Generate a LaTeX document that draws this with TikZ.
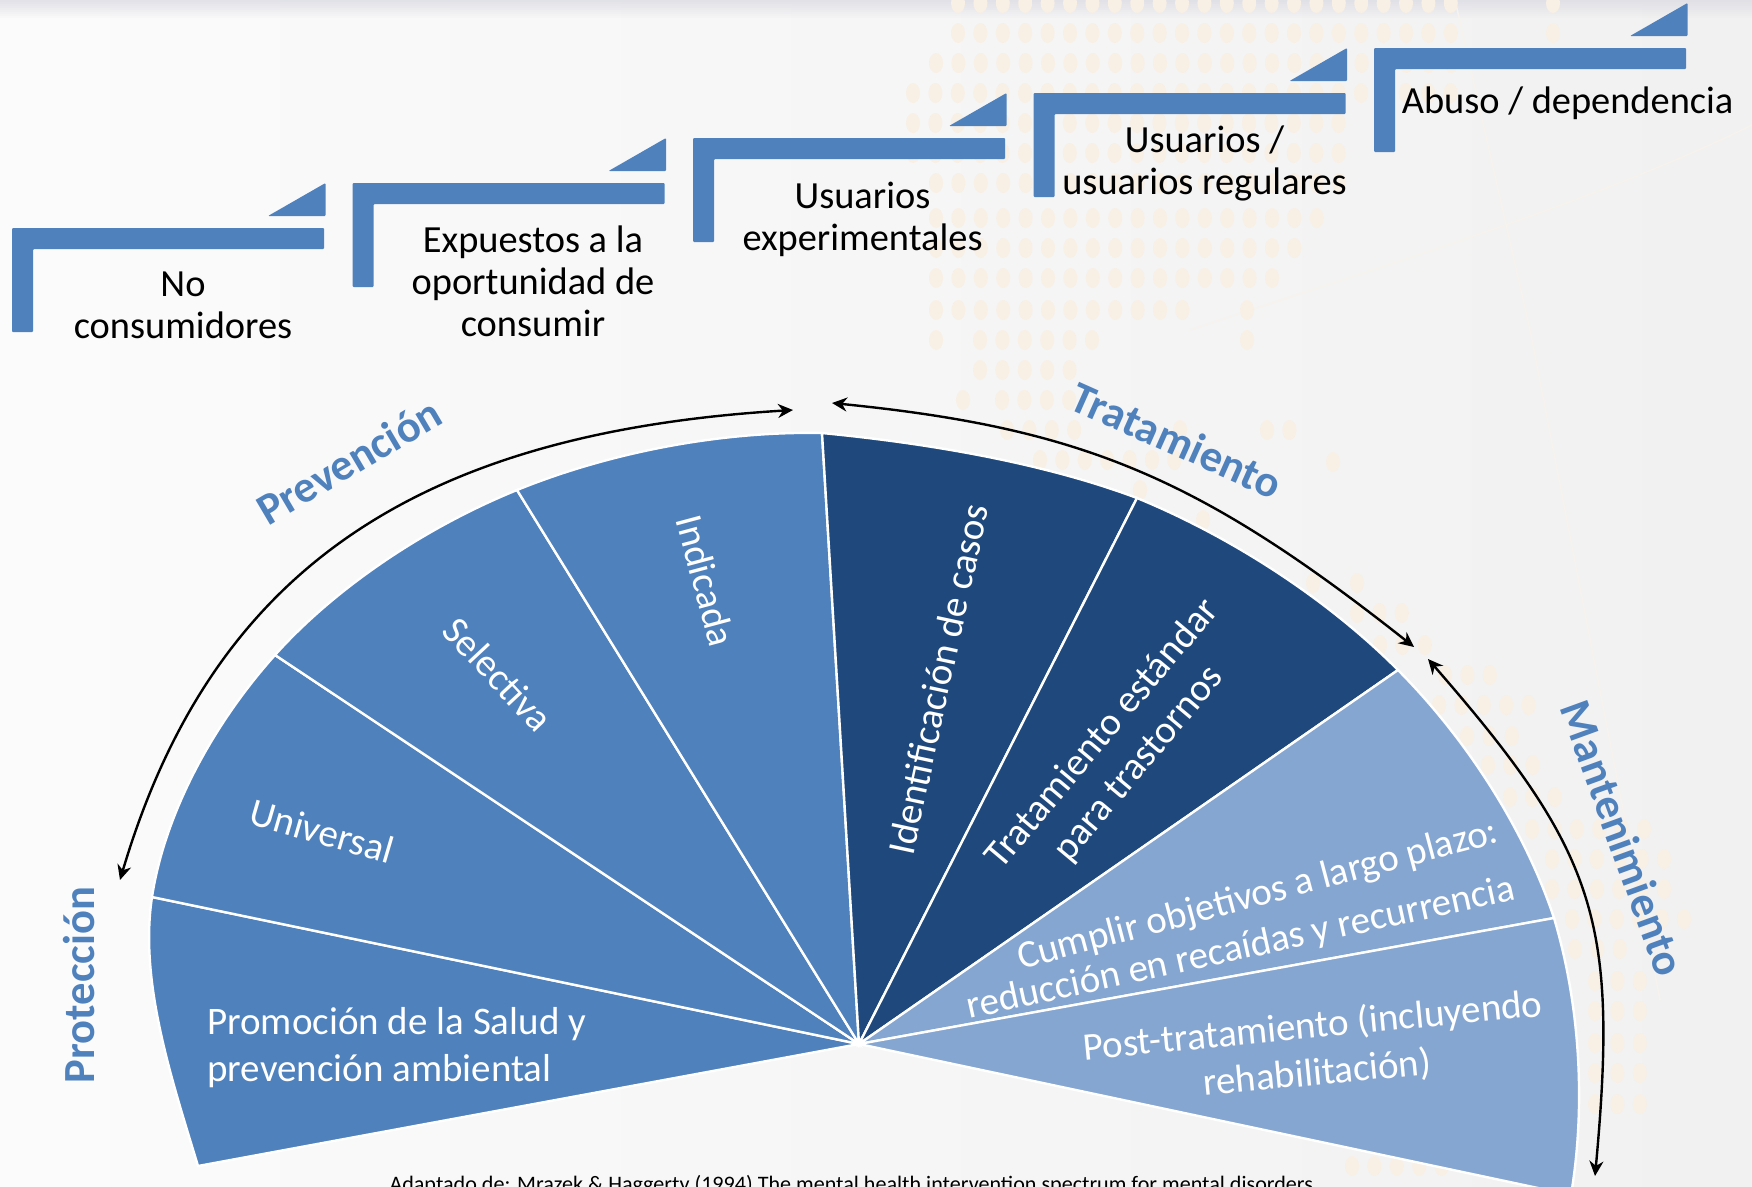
\documentclass[tikz,border=0pt]{standalone}
\usepackage{fontspec}
\setmainfont{Carlito}
\usetikzlibrary{arrows.meta}
\definecolor{midblue}{HTML}{4F81BD}
\definecolor{darkblue}{HTML}{1F497D}
\definecolor{lightblue}{HTML}{86A6D2}
\definecolor{mapdot}{HTML}{F8EFE5}
\definecolor{mapline}{HTML}{F6F3EE}
\definecolor{bgend}{HTML}{EDEDED}
\definecolor{bandtop}{HTML}{DCDCE4}
\tikzset{
  wedge/.style={draw=white,line width=2.4pt,line join=miter},
  stairshape/.style={fill=midblue,draw=none,rounded corners=1pt},
  steplabel/.style={font=\fontsize{38.4}{42}\selectfont,text=black,align=center,inner sep=0pt},
  wedgelabel/.style={font=\fontsize{39}{47}\selectfont,text=white,align=center,inner sep=0pt},
  arclabel/.style={font=\fontsize{44.5}{50}\selectfont\bfseries,text=midblue,inner sep=0pt},
  arcarrow/.style={draw=black,line width=2.4pt,{Stealth[length=15pt,width=14pt]}-{Stealth[length=15pt,width=14pt]}},
  captionlabel/.style={font=\fontsize{22.1}{26}\selectfont,text=black,inner sep=0pt,anchor=base}
}
\begin{document}
\begin{tikzpicture}[x=1pt,y=-1pt]
\path[use as bounding box] (0,0) rectangle (1752,1186);
\clip (0,0) rectangle (1752,1186);
% background
\shade[left color=white,right color=bgend,rotate around={-35:(876,593)}] (-224,-507) rectangle (1976,1693);
\foreach \k in {0,...,8}{
  \pgfmathsetmacro\op{.8*(1-\k/9)}
  \fill[bandtop,opacity=\op] (0,{2*\k}) rectangle (1752,{2*\k+2});
}
\draw[mapline,line width=1.5pt] (1190,330) .. controls (1400,260) and (1600,200) .. (1752,125);
\draw[mapline,line width=1.5pt] (1455,0) -- (1530,330) -- (1660,1000);
% map of dots
\foreach \y/\a/\b in {
 3/958/1470,3/1553/1553,33/958/1470,33/1553/1575,63/936/1470,93/913/1464,123/913/1358,153/913/1358,
 183/936/1358,218/936/1319,248/936/1297,278/936/1275,310/936/1189,310/1247/1247,340/936/936,340/980/1097,
 340/1247/1247,370/980/1075,400/963/963,400/1002/1075,430/1007/1077,430/1180/1180,430/1267/1290,
 460/1040/1180,462/1333/1333,490/1140/1160,520/1203/1203,583/1313/1313,583/1357/1357,613/1357/1420,
 645/1380/1443,675/1445/1510,705/1439/1533,736/1467/1533,765/1488/1553,797/1510/1575,829/1532/1662,
 859/1552/1685,889/1552/1685,919/1572/1685,949/1575/1642,981/1595/1642,1011/1595/1642,1043/1595/1642,
 1073/1595/1642,1104/1595/1642,1166/1352/1452}{
  \pgfmathtruncatemacro\n{(\b-\a)/22.4}
  \foreach \k in {0,...,\n}{\fill[mapdot] ({\a+\k*22.4},\y) ellipse [x radius=7,y radius=10];}
}
% stairs
\foreach \i/\sx/\sy in {1/12/228,2/352.5/183,3/693/138,4/1033.5/93,5/1374/48}{
  \begin{scope}[shift={(\sx,\sy)}]
    \path[stairshape] (0,0) -- (312,0) -- (312,21) -- (21,21) -- (21,104) -- (0,104) -- cycle;
    \path[stairshape] (256,-12) -- (313.5,-45) -- (313.5,-12) -- cycle;
  \end{scope}
}
% wedges
\coordinate (apex) at (859,1044);
\coordinate (A) at (198,1166);
\coordinate (B) at (152,897);
\coordinate (D) at (275,655);
\coordinate (E) at (517,490);
\coordinate (F) at (822,433);
\coordinate (G) at (1137,498);
\coordinate (H) at (1398,670);
\coordinate (I) at (1554,918);
\coordinate (J) at (1571,1195);
\filldraw[wedge,fill=midblue] (apex) -- (A) .. controls (172,1080) and (139,982) .. (B) -- cycle;
\filldraw[wedge,fill=midblue] (apex) -- (B) .. controls (165,812) and (214,723) .. (D) -- cycle;
\filldraw[wedge,fill=midblue] (apex) -- (D) .. controls (336,587) and (426,527) .. (E) -- cycle;
\filldraw[wedge,fill=midblue] (apex) -- (E) .. controls (608,453) and (719,431) .. (F) -- cycle;
\filldraw[wedge,fill=darkblue] (apex) -- (F) .. controls (925,443) and (1041,462) .. (G) -- cycle;
\filldraw[wedge,fill=darkblue] (apex) -- (G) .. controls (1233,537.5) and (1328.5,600) .. (H) -- cycle;
\filldraw[wedge,fill=lightblue] (apex) -- (H) .. controls (1467.5,740) and (1525,830.5) .. (I) -- cycle;
\filldraw[wedge,fill=lightblue] (apex) -- (I) .. controls (1580,1005) and (1586,1105) .. (J) -- cycle;
% arrows
\coordinate (a1) at (793,410);
\coordinate (a2) at (120,880);
\coordinate (b1) at (832,403);
\coordinate (b2) at (1414,647);
\coordinate (c1) at (1428,659);
\coordinate (c2) at (1595,1176);
\draw[arcarrow] (a1) .. controls (413,433) and (211,573) .. (a2);
\draw[arcarrow] (b1) .. controls (1082,428) and (1199,477) .. (b2);
\draw[arcarrow] (c1) .. controls (1597,853) and (1618.5,920) .. (c2);
% step labels
\node[steplabel] (n1) at (183,305) {No\\consumidores};
\node[steplabel] (n2) at (533,281) {Expuestos a la\\oportunidad de\\consumir};
\node[steplabel] (n3) at (862.5,219) {Usuarios\\experimentales};
\node[steplabel] (n4) at (1204.5,163) {Usuarios /\\usuarios regulares};
\node[steplabel] (n5) at (1567.6,103) {Abuso / dependencia};
% arc labels
\node[arclabel,rotate=30.5] (l1) at (349,461) {Prevención};
\node[arclabel,rotate=-24] (l2) at (1177,440) {Tratamiento};
\node[arclabel,rotate=-70] (l3) at (1623,838) {Mantenimiento};
\node[arclabel,rotate=90] (l4) at (79,985) {Protección};
% wedge labels
\node[wedgelabel,align=left,anchor=west] (w1) at (207,1048) {Promoción de la Salud y\\prevención ambiental};
\node[wedgelabel,rotate=-16.3] (w2) at (322,831) {Universal};
\node[wedgelabel,rotate=-47] (w3) at (498,674) {Selectiva};
\node[wedgelabel,rotate=-75] (w4) at (706,581) {Indicada};
\node[wedgelabel,rotate=77.8] (w5) at (938,679) {Identificación de casos};
\node[wedgelabel,rotate=50] (w6) at (1121,749) {Tratamiento estándar\\para trastornos};
\node[wedgelabel,rotate=14.9] (w7a) at (1258,896) {Cumplir objetivos a largo plazo:};
\node[wedgelabel,rotate=12.3] (w7b) at (1241,949) {reducción en recaídas y recurrencia};
\node[wedgelabel,rotate=5.5] (w8) at (1315,1050) {Post-tratamiento (incluyendo\\rehabilitación)};
\node[captionlabel] (cap) at (854,1191) {Adaptado de: Mrazek \& Haggerty (1994) The mental health intervention spectrum for mental disorders.};
\end{tikzpicture}
\end{document}
